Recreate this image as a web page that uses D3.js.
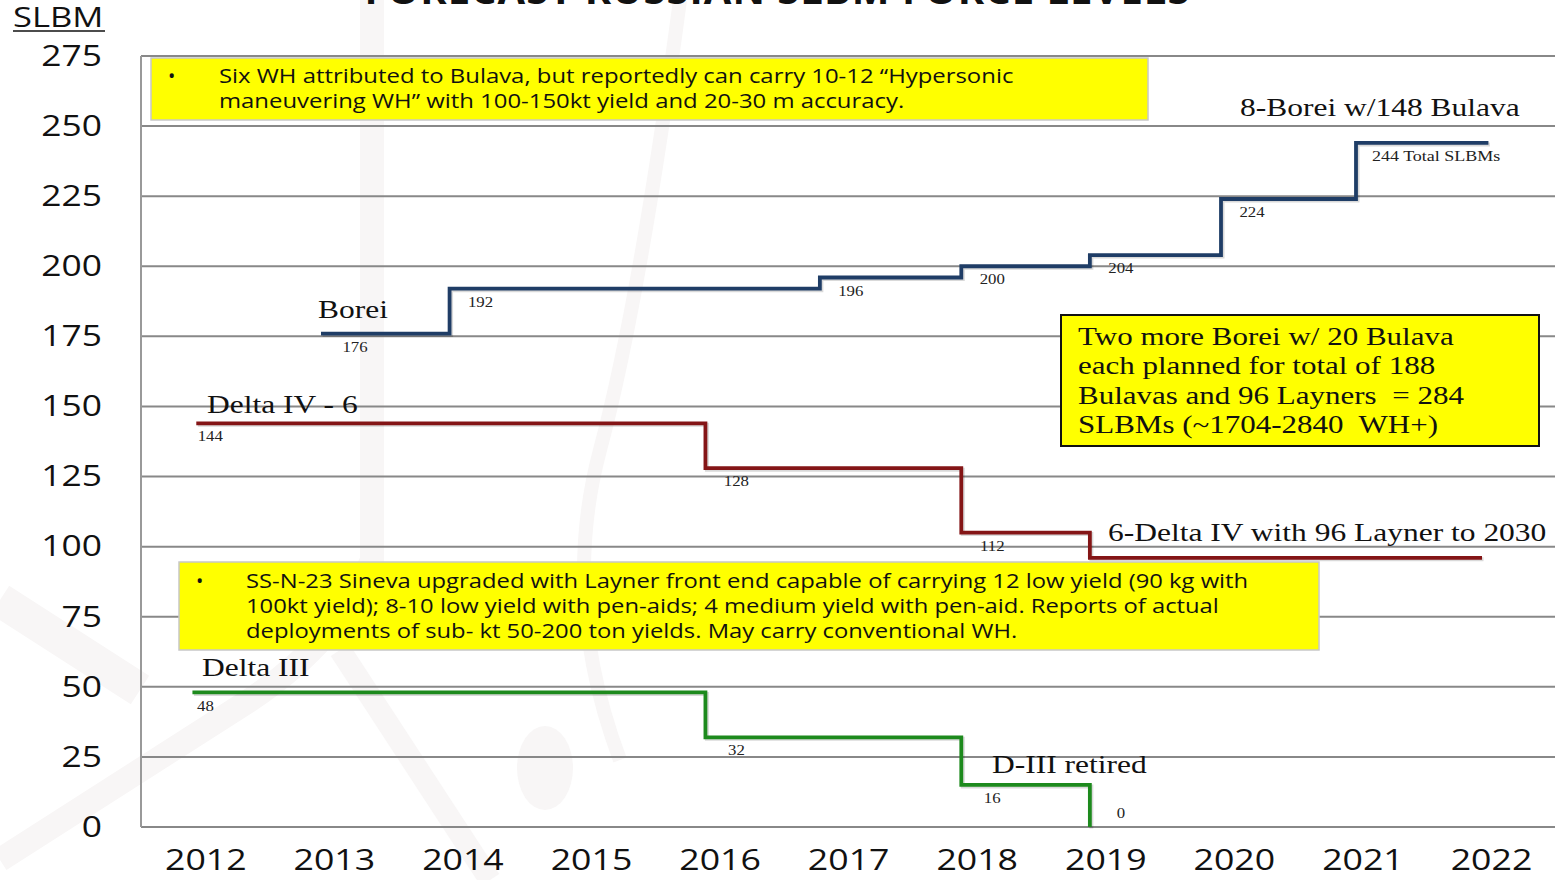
<!DOCTYPE html>
<html>
<head>
<meta charset="utf-8">
<script src="https://cdn.jsdelivr.net/npm/d3@7"></script>
<style>
  body { margin: 0; background: #fff; }
  svg { display: block; }
  text { transform-box: fill-box; }
</style>
</head>
<body>
<div id="chart"></div>
<script>
// years on the x axis
var years = [2012, 2013, 2014, 2015, 2016, 2017, 2018, 2019, 2020, 2021, 2022];
var yTicks = [0, 25, 50, 75, 100, 125, 150, 175, 200, 225, 250, 275];

// Borei: year where each level starts, level, and where the line ends
var boreiStarts = [2012.9, 2013.9, 2016.78, 2017.88, 2018.88, 2019.9, 2020.95];
var boreiLevels = [176, 192, 196, 200, 204, 224, 244];
var boreiLabels = ["176", "192", "196", "200", "204", "224", "244 Total SLBMs"];
var boreiEnd = 2021.98;

// Delta IV
var deltaIVStarts = [2011.93, 2015.89, 2017.88, 2018.88];
var deltaIVLevels = [144, 128, 105, 96];
var deltaIVLabels = ["144", "128", "112", ""];
var deltaIVEnd = 2021.93;

// Delta III
var deltaIIIStarts = [2011.9, 2015.89, 2017.88, 2018.88];
var deltaIIILevels = [48, 32, 15, 0];
var deltaIIILabels = ["48", "32", "16", "0"];
var deltaIIIEnd = 2018.88;

var width = 1562, height = 880;
var sans = "'Open Sans', sans-serif";
var serif = "'Liberation Serif', 'Times New Roman', serif";

// the slide is stretched sideways, so text gets a horizontal scale
function stretch(sel, k, origin) {
  sel.style("transform-origin", origin)
     .style("transform", "scaleX(" + k + ")");
}

var svg = d3.select("#chart").append("svg")
  .attr("width", width)
  .attr("height", height);

// very faint watermark in the background
var wm = svg.append("g").attr("fill", "none").attr("stroke", "#f8f6f6");
wm.append("path").attr("d", "M372,0 L372,560 Q340,640 250,700 L0,860").attr("stroke-width", 24);
wm.append("path").attr("d", "M0,600 L140,690").attr("stroke-width", 34);
wm.append("path").attr("d", "M680,0 Q640,300 600,450 Q560,600 620,760").attr("stroke-width", 14);
wm.append("path").attr("d", "M340,650 L490,880").attr("stroke-width", 22);
wm.append("ellipse").attr("cx", 545).attr("cy", 768).attr("rx", 28).attr("ry", 42)
  .attr("fill", "#f8f6f6").attr("stroke", "none");

var x = d3.scaleLinear()
  .domain([2012, 2022])
  .range([205.3, 1491]);

var y = d3.scaleLinear()
  .domain([0, 275])
  .range([827, 56]);

var plotLeft = 141, plotRight = 1555;

// grid lines
svg.append("g")
  .selectAll("line")
  .data(yTicks)
  .enter()
  .append("line")
  .attr("x1", plotLeft)
  .attr("x2", plotRight)
  .attr("y1", d => y(d))
  .attr("y2", d => y(d))
  .attr("stroke", "#888")
  .attr("stroke-width", 2);

// left axis line
svg.append("line")
  .attr("x1", plotLeft).attr("x2", plotLeft)
  .attr("y1", y(275)).attr("y2", y(0))
  .attr("stroke", "#999")
  .attr("stroke-width", 2);

// y axis labels
var yAxis = d3.axisLeft(y).tickValues(yTicks).tickSize(0).tickPadding(0);
var gy = svg.append("g")
  .attr("transform", "translate(102,0)")
  .call(yAxis);
gy.select(".domain").remove();
gy.selectAll("text")
  .attr("font-family", sans)
  .attr("font-size", 29)
  .attr("fill", "#111")
  .call(stretch, 1.22, "right");

// x axis labels
var xAxis = d3.axisBottom(x).tickValues(years).tickFormat(d3.format("d")).tickSize(0).tickPadding(0);
var gx = svg.append("g")
  .attr("transform", "translate(0,849)")
  .call(xAxis);
gx.select(".domain").remove();
gx.selectAll("text")
  .attr("font-family", sans)
  .attr("font-size", 29)
  .attr("fill", "#111")
  .call(stretch, 1.23, "center");

// title, cut off at the top
svg.append("text")
  .attr("x", 777)
  .attr("y", 4)
  .attr("text-anchor", "middle")
  .attr("font-family", sans)
  .attr("font-weight", "bold")
  .attr("font-size", 40)
  .attr("textLength", 825)
  .attr("fill", "#111")
  .text("FORECAST RUSSIAN SLBM FORCE LEVELS");

// SLBM axis title
svg.append("text")
  .attr("x", 13)
  .attr("y", 27)
  .attr("font-family", sans)
  .attr("font-size", 27)
  .attr("fill", "#111")
  .text("SLBM")
  .call(stretch, 1.28, "left");
svg.append("line")
  .attr("x1", 13).attr("x2", 105)
  .attr("y1", 31).attr("y2", 31)
  .attr("stroke", "#111").attr("stroke-width", 1.5);

// step lines
var line = d3.line()
  .x(d => x(d[0]))
  .y(d => y(d[1]))
  .curve(d3.curveStepAfter);

function drawSeries(starts, levels, end, color) {
  var pts = starts.map((s, i) => [s, levels[i]]);
  pts.push([end, levels[levels.length - 1]]);
  // soft shadow
  svg.append("path")
    .datum(pts)
    .attr("d", line)
    .attr("fill", "none")
    .attr("stroke", "#000")
    .attr("stroke-opacity", 0.15)
    .attr("stroke-width", 4)
    .attr("transform", "translate(1.5,1.5)");
  svg.append("path")
    .datum(pts)
    .attr("d", line)
    .attr("fill", "none")
    .attr("stroke", color)
    .attr("stroke-width", 3.8);
}

drawSeries(boreiStarts, boreiLevels, boreiEnd, "#1f3d66");
drawSeries(deltaIVStarts, deltaIVLevels, deltaIVEnd, "#841516");
drawSeries(deltaIIIStarts, deltaIIILevels, deltaIIIEnd, "#1d8a1d");

// value labels under each step
function drawLabels(starts, levels, labels, firstOffset) {
  svg.append("g")
    .selectAll("text")
    .data(labels)
    .enter()
    .append("text")
    .attr("x", (d, i) => {
      if (d.length > 4) return x(starts[i]) + 16;
      return x(starts[i]) + (i == 0 ? firstOffset : 31);
    })
    .attr("y", (d, i) => levels[i] == 0 ? y(0) - 12 : y(levels[i]) + 15)
    .attr("text-anchor", d => d.length > 4 ? "start" : "middle")
    .attr("dominant-baseline", "middle")
    .attr("font-family", serif)
    .attr("font-size", d => d.length > 4 ? 15 : 14)
    .attr("fill", "#222")
    .text(d => d)
    .each(function(d) {
      d3.select(this).call(stretch, 1.2, d.length > 4 ? "left" : "center");
    });
}

drawLabels(boreiStarts, boreiLevels, boreiLabels, 34);
drawLabels(deltaIVStarts, deltaIVLevels, deltaIVLabels, 14);
drawLabels(deltaIIIStarts, deltaIIILevels, deltaIIILabels, 13);

// series names
var names = [
  {t: "Borei", x: 318, y: 318},
  {t: "Delta IV - 6", x: 207, y: 413},
  {t: "8-Borei w/148 Bulava", x: 1240, y: 116},
  {t: "6-Delta IV with 96 Layner to 2030", x: 1108, y: 541},
  {t: "Delta III", x: 202, y: 676},
  {t: "D-III retired", x: 992, y: 773}
];
svg.append("g")
  .selectAll("text")
  .data(names)
  .enter()
  .append("text")
  .attr("x", d => d.x)
  .attr("y", d => d.y)
  .attr("font-family", serif)
  .attr("font-size", 25)
  .attr("fill", "#111")
  .text(d => d.t)
  .call(stretch, 1.26, "left");

// yellow note boxes
function noteBox(bx, by, bw, bh, stroke, sw, lines, opts) {
  svg.append("rect")
    .attr("x", bx).attr("y", by)
    .attr("width", bw).attr("height", bh)
    .attr("fill", "#ffff00")
    .attr("stroke", stroke)
    .attr("stroke-width", sw);
  if (opts.bullet) {
    svg.append("text")
      .attr("x", opts.bulletX)
      .attr("y", opts.y0)
      .attr("font-family", opts.font)
      .attr("font-size", opts.size)
      .attr("fill", "#111")
      .text("\u2022");
  }
  svg.append("g")
    .selectAll("text")
    .data(lines)
    .enter()
    .append("text")
    .attr("x", opts.tx)
    .attr("y", (d, i) => opts.y0 + i * opts.lh)
    .attr("font-family", opts.font)
    .attr("font-size", opts.size)
    .attr("fill", "#111")
    .style("white-space", "pre")
    .text(d => d)
    .call(stretch, opts.k, "left");
}

var note1 = [
  "Six WH attributed to Bulava, but reportedly can carry 10-12 \u201cHypersonic",
  "maneuvering WH\u201d with 100-150kt yield and 20-30 m accuracy."
];
var note2 = [
  "SS-N-23 Sineva upgraded with Layner front end capable of carrying 12 low yield (90 kg with",
  "100kt yield); 8-10 low yield with pen-aids; 4 medium yield with pen-aid. Reports of actual",
  "deployments of sub- kt 50-200 ton yields. May carry conventional WH."
];
var note3 = [
  "Two more Borei w/ 20 Bulava",
  "each planned for total of 188",
  "Bulavas and 96 Layners  = 284",
  "SLBMs (~1704-2840  WH+)"
];

noteBox(151, 58, 997, 62, "#c8c8c8", 1.5, note1,
  {bullet: true, bulletX: 168, tx: 219, y0: 83, lh: 25, size: 19.5, k: 1.225, font: sans});
noteBox(179, 562, 1140, 88, "#c8c8c8", 1.5, note2,
  {bullet: true, bulletX: 196, tx: 246, y0: 588, lh: 25, size: 19.5, k: 1.22, font: sans});
noteBox(1061, 315, 478, 131, "#111", 2, note3,
  {bullet: false, tx: 1078, y0: 345, lh: 29.5, size: 25, k: 1.24, font: serif});
</script>
</body>
</html>
